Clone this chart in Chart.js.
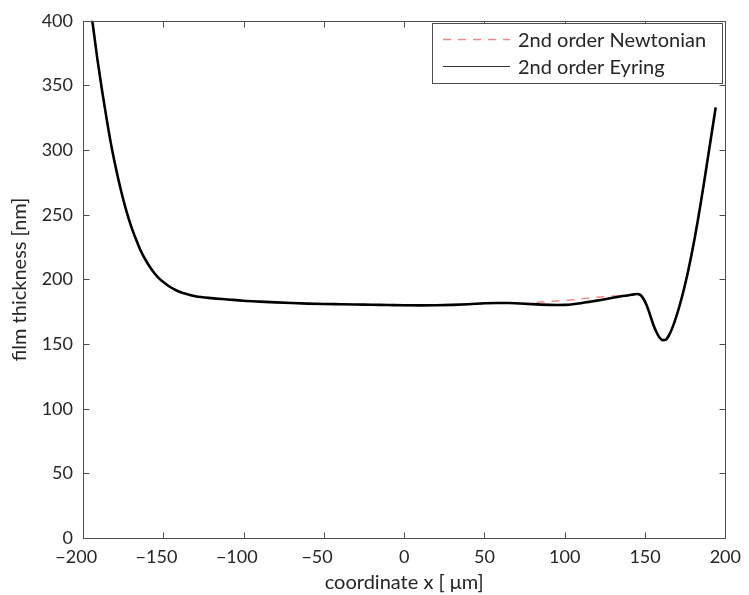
<!DOCTYPE html>
<html>
<head>
<meta charset="utf-8">
<script src="https://cdn.jsdelivr.net/npm/chart.js@4.4.1/dist/chart.umd.min.js"></script>
<style>
html,body{margin:0;padding:0;background:#fff;}
#wrap{width:749px;height:595px;position:relative;}
</style>
</head>
<body>
<div id="wrap"><canvas id="c" width="749" height="595"></canvas></div>
<script>
// ---- data ----
const coordinateX = [-196,-194,-191,-188,-185,-182,-179,-176,-173,-170,-167,-164,-161,-158,-155,-152,-149,-146,-143,-140,-135,-130,-120,-110,-100,-90,-80,-70,-60,-50,-40,-30,-20,-10,0,10,20,30,40,50,57,65,75,85,95,100,105,110,115,120,125,130,135,140,143,145,147,149,151,153,155,157,159,161,163,165,167,169,171,173,175,177,179,181,183,185,187,189,191,193,194];
const eyringThickness = [418,398,370,345,322,301,283,267,253,241,231,222,215,209,204,200,197,194.3,192.2,190.5,188.5,187,185.5,184.5,183.5,182.8,182.2,181.7,181.3,181,180.8,180.6,180.4,180.2,180,179.9,180,180.3,180.8,181.5,181.8,181.7,181.2,180.5,180.2,180.3,180.8,181.6,182.6,183.6,184.7,185.8,186.9,187.8,188.4,188.7,188,185,180,173,165.5,159.5,155,153,153.5,157,162.5,169.5,177.5,186.5,196.5,207.5,219.5,232.5,246.5,261.5,277,293,309,325,333];
const newtonianThickness = [418,398,370,345,322,301,283,267,253,241,231,222,215,209,204,200,197,194.3,192.2,190.5,188.5,187,185.5,184.5,183.5,182.8,182.2,181.7,181.3,181,180.8,180.6,180.2,180,179.9,179.9,180,180.3,180.8,181.3,181.5,181.6,181.6,182.5,183.3,183.7,184.2,184.9,185.6,186.2,186.7,187.1,187.5,187.9,188.4,188.7,188,185,180,173,165.5,159.5,155,153,153.5,157,162.5,169.5,177.5,186.5,196.5,207.5,219.5,232.5,246.5,261.5,277,293,309,325,333];
const xTicks = [-200,-150,-100,-50,0,50,100,150,200];
const yTicks = [0,50,100,150,200,250,300,350,400];
const seriesLabels = ['2nd order Newtonian','2nd order Eyring'];

const FONT = 'Lato, "Open Sans", sans-serif';
const TXT = '#262626';

function pts(xs, ys){ return xs.map((x,i)=>({x:x, y:ys[i]})); }

const framePlugin = {
  id:'frame',
  afterDatasetsDraw(chart){
    const {ctx, chartArea:{left,right,top,bottom}, scales:{x,y}} = chart;
    ctx.save();
    ctx.strokeStyle = '#4d4d4d';
    ctx.lineWidth = 1;
    ctx.beginPath();
    const L = Math.round(left)+0.5, R = Math.round(right)+0.5, T = Math.round(top)+0.5, B = Math.round(bottom)+0.5;
    ctx.rect(L, T, R-L, B-T);
    const tl = 6;
    x.ticks.forEach(t=>{
      const px = Math.round(x.getPixelForValue(t.value))+0.5;
      ctx.moveTo(px,B); ctx.lineTo(px,B-tl);
      ctx.moveTo(px,T); ctx.lineTo(px,T+tl);
    });
    y.ticks.forEach(t=>{
      const py = Math.round(y.getPixelForValue(t.value))+0.5;
      ctx.moveTo(L,py); ctx.lineTo(L+tl,py);
      ctx.moveTo(R,py); ctx.lineTo(R-tl,py);
    });
    ctx.stroke();
    ctx.restore();
  },
  afterDraw(chart){
    // legend box inside the plot (upper right)
    const {ctx} = chart;
    const ds = chart.data.datasets;
    ctx.save();
    const bx = 432.5, by = 23.5, bw = 290, bh = 60;
    ctx.fillStyle = '#fff';
    ctx.fillRect(bx, by, bw, bh);
    ctx.strokeStyle = '#4d4d4d';
    ctx.lineWidth = 1;
    ctx.strokeRect(bx, by, bw, bh);
    const rows = [39.5, 66.5];
    ds.forEach((d,i)=>{
      ctx.beginPath();
      ctx.strokeStyle = i===0 ? d.borderColor : '#333';
      ctx.lineWidth = i===0 ? 1.5 : 1.2;
      ctx.setLineDash(d.borderDash || []);
      ctx.moveTo(443, rows[i]);
      ctx.lineTo(510, rows[i]);
      ctx.stroke();
      ctx.setLineDash([]);
      ctx.fillStyle = TXT;
      ctx.font = '20px ' + FONT;
      ctx.textBaseline = 'middle';
      ctx.textAlign = 'left';
      ctx.fillText(d.label, 518, rows[i]+1);
    });
    ctx.restore();
  }
};

new Chart(document.getElementById('c'), {
  type:'line',
  data:{
    datasets:[
      {label:seriesLabels[0], data:pts(coordinateX,newtonianThickness), borderColor:'#f08a8a', borderWidth:1.5, borderDash:[8,7], pointRadius:0, cubicInterpolationMode:'monotone', order:2},
      {label:seriesLabels[1], data:pts(coordinateX,eyringThickness), borderColor:'#000000', borderWidth:2.6, pointRadius:0, cubicInterpolationMode:'monotone', order:1}
    ]
  },
  options:{
    responsive:false,
    animation:false,
    layout:{padding:{top:12,right:17,left:0,bottom:0}},
    plugins:{legend:{display:false}, tooltip:{enabled:false}},
    scales:{
      x:{
        type:'linear', min:-200, max:200,
        afterBuildTicks(s){ s.ticks = xTicks.map(v=>({value:v})); },
        afterFit(s){ s.height = 57; },
        grid:{display:false, drawTicks:false},
        border:{display:false},
        ticks:{color:TXT, font:{family:FONT, size:18}, padding:8, maxRotation:0,
          callback:v=> v<0 ? '\u2212' + String(-v) + '\u2002 ' : String(v)},
        title:{display:true, text:'coordinate x [ \u03bcm]', color:TXT, font:{family:FONT, size:20}, padding:{top:0,bottom:0}}
      },
      y:{
        type:'linear', min:0, max:400,
        afterBuildTicks(s){ s.ticks = yTicks.map(v=>({value:v})); },
        afterFit(s){ s.width = 83; },
        grid:{display:false, drawTicks:false},
        border:{display:false},
        ticks:{color:TXT, font:{family:FONT, size:18}, padding:10},
        title:{display:true, text:'film thickness [nm]', color:TXT, font:{family:FONT, size:20}, padding:{top:8,bottom:0}}
      }
    }
  },
  plugins:[framePlugin]
});
</script>
</body>
</html>
